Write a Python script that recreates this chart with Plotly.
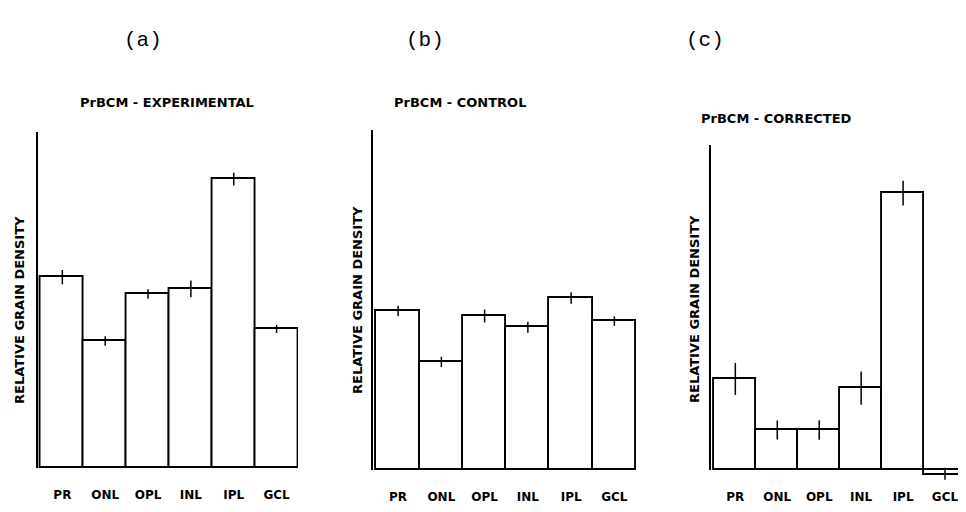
import plotly.graph_objects as go

layers = ["PR", "ONL", "OPL", "INL", "IPL", "GCL"]

exp_values = [5.68, 3.78, 5.18, 5.33, 8.60, 4.14]
exp_errors = [0.21, 0.14, 0.14, 0.25, 0.19, 0.12]

ctl_values = [4.68, 3.18, 4.53, 4.20, 5.06, 4.38]
ctl_errors = [0.15, 0.15, 0.19, 0.16, 0.17, 0.14]

cor_values = [2.80, 1.23, 1.23, 2.52, 8.52, -0.15]
cor_errors = [0.49, 0.29, 0.30, 0.51, 0.38, 0.22]

panel_letters = ["(a)", "(b)", "(c)"]
panel_titles = ["PrBCM - EXPERIMENTAL", "PrBCM - CONTROL", "PrBCM - CORRECTED"]
y_title = "RELATIVE GRAIN DENSITY"

W, H = 966, 512
OFF = 8  # page body margin
def px(x):
    return (x - OFF) / W
def py(y):
    return 1 - (y - OFF) / H

YMAX = 10
panels = [
    dict(vals=exp_values, errs=exp_errors, xd=(37.5, 298), yd=(468, 132), ymin=0),
    dict(vals=ctl_values, errs=ctl_errors, xd=(373, 636), yd=(470, 130), ymin=0),
    dict(vals=cor_values, errs=cor_errors, xd=(711, 966), yd=(470, 145), ymin=-0.3),
]

BOLD = "DejaVu Sans"

fig = go.Figure()
layout = dict(
    width=W, height=H,
    margin=dict(l=0, r=0, t=0, b=0),
    paper_bgcolor="white", plot_bgcolor="rgba(0,0,0,0)",
    showlegend=False, bargap=0,
    font=dict(family=BOLD, color="black"),
)

for i, p in enumerate(panels):
    sfx = "" if i == 0 else str(i + 1)
    line_sfx = str(i + 4)
    base_px, top_px = p["yd"]
    unit = (base_px - top_px) / YMAX
    bottom_px = base_px - p["ymin"] * unit
    fig.add_trace(go.Bar(
        x=list(range(len(layers))), y=p["vals"],
        xaxis="x" + sfx, yaxis="y" + sfx,
        marker=dict(color="white", line=dict(color="black", width=1.9)),
        error_y=dict(type="data", array=p["errs"], visible=True,
                     width=0, thickness=1.5, color="black"),
        width=1.0, hoverinfo="x+y",
    ))
    # invisible trace carrying the vertical axis line (from baseline up)
    fig.add_trace(go.Scatter(
        x=[None], y=[None], xaxis="x" + sfx, yaxis="y" + line_sfx,
        mode="markers", hoverinfo="skip", showlegend=False,
    ))
    layout["xaxis" + sfx] = dict(
        domain=[px(p["xd"][0]), min(1.0, px(p["xd"][1]))],
        range=[-0.58, 5.5], anchor="y" + sfx,
        tickmode="array", tickvals=list(range(len(layers))), ticktext=layers,
        ticks="outside", ticklen=16 - (bottom_px - base_px), tickcolor="rgba(0,0,0,0)",
        tickfont=dict(size=12, weight="bold", family=BOLD),
        showline=False, showgrid=False, zeroline=False, fixedrange=True,
    )
    layout["yaxis" + sfx] = dict(
        domain=[py(bottom_px), py(top_px)],
        range=[p["ymin"], YMAX], anchor="x" + sfx,
        showline=False, showticklabels=False, ticks="",
        showgrid=False, zeroline=False,
    )
    layout["yaxis" + line_sfx] = dict(
        domain=[py(base_px), py(top_px)],
        range=[0, YMAX], anchor="x" + sfx,
        showline=True, linecolor="black", linewidth=1.5,
        showticklabels=False, ticks="", showgrid=False, zeroline=False,
    )

fig.update_layout(**layout)

letter_pos = [(143, 40), (425, 40), (705, 40)]
title_pos = [(167, 102), (460, 102), (776, 118)]
ytitle_pos = [(19, 310), (357, 300), (694, 309)]

for i in range(3):
    fig.add_annotation(text=panel_letters[i], x=px(letter_pos[i][0]), y=py(letter_pos[i][1]),
                       xref="paper", yref="paper", showarrow=False,
                       xanchor="center", yanchor="middle",
                       font=dict(family="Liberation Mono", size=21, color="black"))
    fig.add_annotation(text=panel_titles[i], x=px(title_pos[i][0]), y=py(title_pos[i][1]),
                       xref="paper", yref="paper", showarrow=False,
                       xanchor="center", yanchor="middle",
                       font=dict(family=BOLD, size=13, weight="bold", color="black"))
    fig.add_annotation(text=y_title, x=px(ytitle_pos[i][0]), y=py(ytitle_pos[i][1]),
                       xref="paper", yref="paper", showarrow=False, textangle=-90,
                       xanchor="center", yanchor="middle",
                       font=dict(family=BOLD, size=13, weight="bold", color="black"))

fig.write_html("out.html")
